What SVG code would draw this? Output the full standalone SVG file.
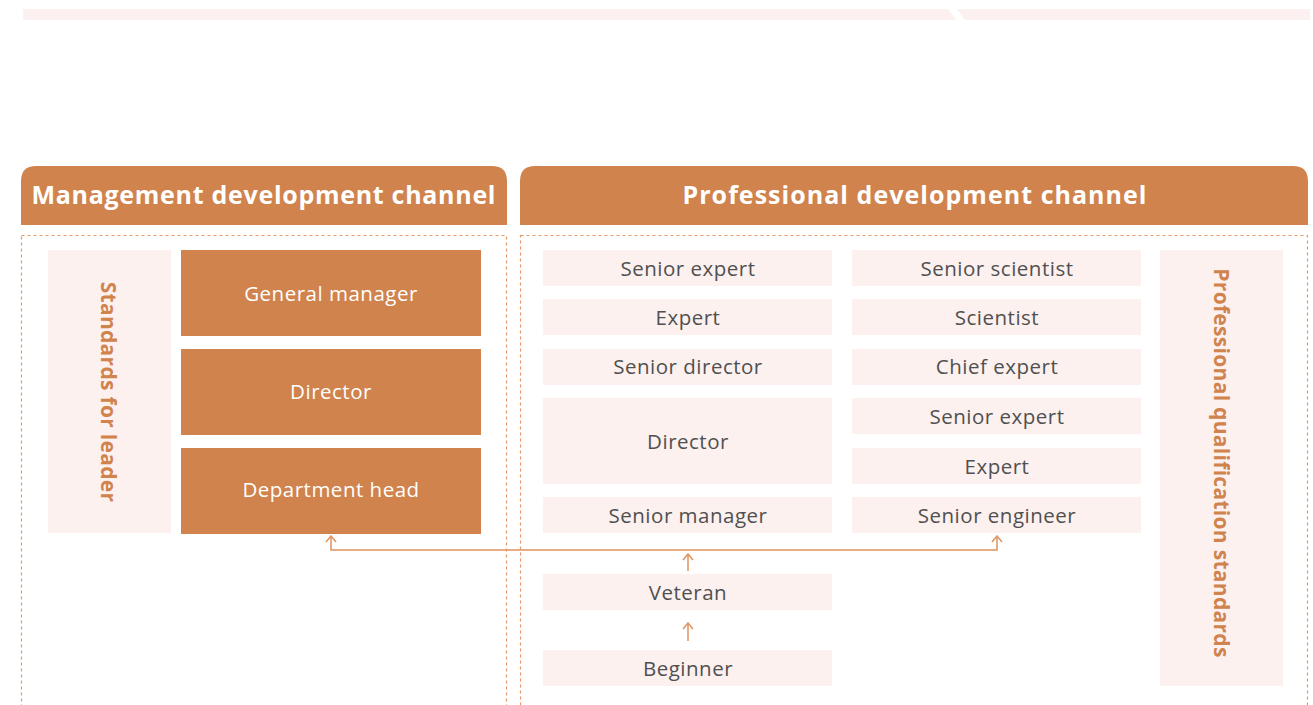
<svg xmlns="http://www.w3.org/2000/svg" width="1313" height="705" viewBox="0 0 1313 705">
<style>
.hdr{fill:#D0834D}
.hdrt{font-family:"Open Sans","Liberation Sans",sans-serif;font-weight:700;font-size:25px;fill:#FFFFFF;text-anchor:middle;dominant-baseline:central;letter-spacing:1px}
.dash{fill:none;stroke:#E39A68;stroke-width:1.2;stroke-dasharray:3 3}
.dark{fill:#D0834D}
.light{fill:#FCF1EF}
.wt{font-family:"Open Sans","Liberation Sans",sans-serif;font-size:20.5px;fill:#FFFFFF;text-anchor:middle;dominant-baseline:central;letter-spacing:0.5px}
.gt{font-family:"Open Sans","Liberation Sans",sans-serif;font-size:20.5px;fill:#505050;text-anchor:middle;dominant-baseline:central;letter-spacing:0.5px}
.vt{font-family:"Open Sans","Liberation Sans",sans-serif;font-weight:700;font-size:21px;fill:#D0834D;text-anchor:middle;dominant-baseline:central;letter-spacing:0.3px}
.conn{fill:none;stroke:#E0935E;stroke-width:1.5}
</style>
<defs>
<marker id="arr" viewBox="0 0 8 12" refX="7" refY="6" markerWidth="8" markerHeight="12" markerUnits="userSpaceOnUse" orient="auto-start-reverse">
<path d="M1,1 L7,6 L1,11" fill="none" stroke="#E0935E" stroke-width="1.5"/>
</marker>
</defs>
<g id="top-band">
<polygon points="23,9 948,9 956,20 23,20" fill="#FCF1F0"/>
<polygon points="957,9 1310,9 1310,20 965,20" fill="#FCF1F0"/>
</g>
<g id="mgmt-header">
<path class="hdr" d="M21,225 L21,181 Q21,166 36,166 L492,166 Q507,166 507,181 L507,225 Z"/>
<text class="hdrt" x="264" y="194" textLength="465" lengthAdjust="spacing">Management development channel</text>
</g>
<g id="prof-header">
<path class="hdr" d="M520,225 L520,181 Q520,166 535,166 L1293,166 Q1308,166 1308,181 L1308,225 Z"/>
<text class="hdrt" x="915" y="194" textLength="465" lengthAdjust="spacing">Professional development channel</text>
</g>
<g id="mgmt-frame"><rect class="dash" x="21.5" y="235.5" width="485" height="480"/></g>
<g id="prof-frame"><rect class="dash" x="520.5" y="235.5" width="787" height="480"/></g>
<g id="standards-leader">
<rect class="light" x="48" y="250" width="123" height="283"/>
<text class="vt" transform="translate(109,392) rotate(90)">Standards for leader</text>
</g>
<g id="general-manager"><rect class="dark" x="181" y="250" width="300" height="86"/><text class="wt" x="331" y="293">General manager</text></g>
<g id="director-m"><rect class="dark" x="181" y="349" width="300" height="86"/><text class="wt" x="331" y="391">Director</text></g>
<g id="department-head"><rect class="dark" x="181" y="448" width="300" height="86"/><text class="wt" x="331" y="489">Department head</text></g>
<g id="p-senior-expert"><rect class="light" x="543" y="250" width="289" height="36"/><text class="gt" x="688" y="268">Senior expert</text></g>
<g id="p-expert"><rect class="light" x="543" y="299" width="289" height="36"/><text class="gt" x="688" y="317">Expert</text></g>
<g id="p-senior-director"><rect class="light" x="543" y="349" width="289" height="36"/><text class="gt" x="688" y="366">Senior director</text></g>
<g id="p-director"><rect class="light" x="543" y="398" width="289" height="86"/><text class="gt" x="688" y="441">Director</text></g>
<g id="p-senior-manager"><rect class="light" x="543" y="497" width="289" height="36"/><text class="gt" x="688" y="515">Senior manager</text></g>
<g id="veteran"><rect class="light" x="543" y="574" width="289" height="36"/><text class="gt" x="688" y="592">Veteran</text></g>
<g id="beginner"><rect class="light" x="543" y="650" width="289" height="36"/><text class="gt" x="688" y="668">Beginner</text></g>
<g id="t-senior-scientist"><rect class="light" x="852" y="250" width="289" height="36"/><text class="gt" x="997" y="268">Senior scientist</text></g>
<g id="t-scientist"><rect class="light" x="852" y="299" width="289" height="36"/><text class="gt" x="997" y="317">Scientist</text></g>
<g id="t-chief-expert"><rect class="light" x="852" y="349" width="289" height="36"/><text class="gt" x="997" y="366">Chief expert</text></g>
<g id="t-senior-expert"><rect class="light" x="852" y="398" width="289" height="36"/><text class="gt" x="997" y="416">Senior expert</text></g>
<g id="t-expert"><rect class="light" x="852" y="448" width="289" height="36"/><text class="gt" x="997" y="466">Expert</text></g>
<g id="t-senior-engineer"><rect class="light" x="852" y="497" width="289" height="36"/><text class="gt" x="997" y="515">Senior engineer</text></g>
<g id="prof-standards">
<rect class="light" x="1160" y="250" width="123" height="436"/>
<text class="vt" transform="translate(1222,463) rotate(90)">Professional qualification standards</text>
</g>
<g id="connectors">
<path class="conn" d="M331,536 L331,550 L997,550 L997,536" marker-start="url(#arr)" marker-end="url(#arr)"/>
<path class="conn" d="M688,571 L688,554" marker-end="url(#arr)"/>
<path class="conn" d="M688,641 L688,623" marker-end="url(#arr)"/>
</g>
</svg>
